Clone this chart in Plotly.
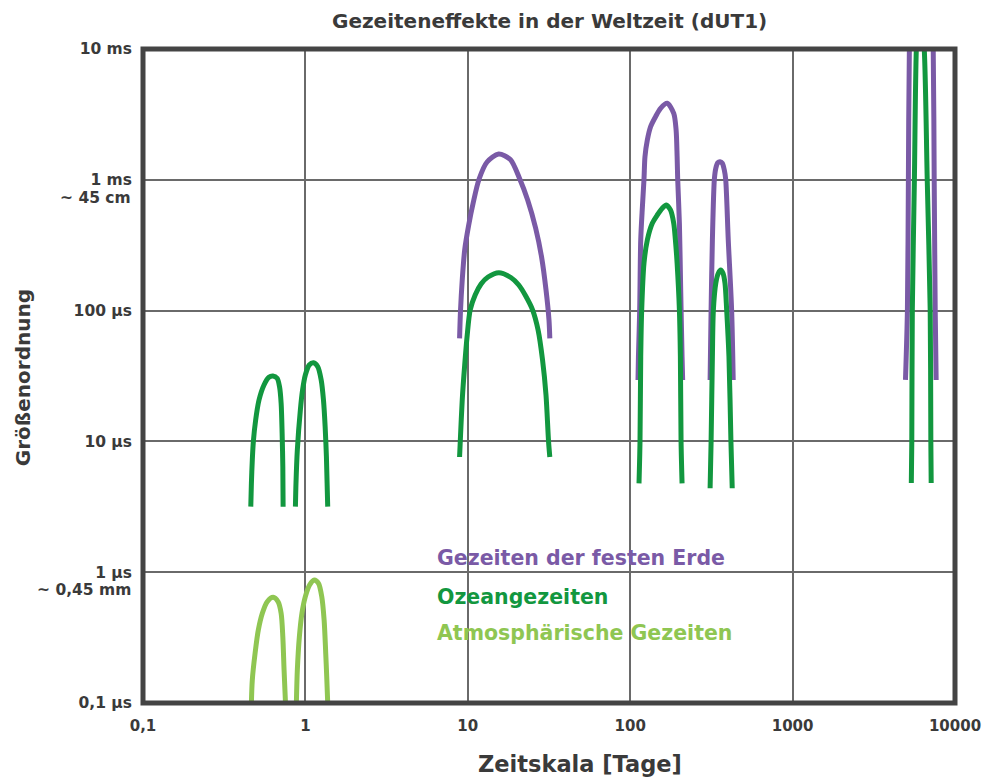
import numpy as np
import plotly.graph_objects as go

# ---------------- data (x: period in days, y: amplitude in microseconds) ----------------
x_tickvals = [0.1, 1, 10, 100, 1000, 10000]
x_ticktext = ["0,1", "1", "10", "100", "1000", "10000"]
y_tickvals = [0.1, 1, 10, 100, 1000, 10000]
y_ticktext = ["0,1 µs", "1 µs", "10 µs", "100 µs", "1 ms", "10 ms"]
y_sublabel_vals = [1, 1000]
y_sublabel_text = ["~ 0,45 mm", "~ 45 cm"]

# --- solid Earth tides (purple) ---
erde_14d_x = [8.90, 9.02, 9.24, 9.57, 10.13, 10.79, 11.74, 13.14, 15.48,
              18.28, 20.89, 23.37, 26.16, 28.46, 30.31, 31.62, 31.99]
erde_14d_y = [61.4, 101, 171, 291, 451, 665, 1014, 1368, 1575,
              1430, 1014, 701, 428, 257, 144, 84.7, 61.4]
erde_182d_x = [111.7, 112.4, 114.4, 116.1, 118.9, 121.6, 123.3, 127.5, 133.6, 143.3,
               153.8, 168.9, 185.4, 191.7, 194.5, 196.1, 200.9, 204.6, 208.6, 210.4]
erde_182d_y = [29.5, 44.4, 101, 347, 623, 1009, 1502, 2015, 2547, 3037,
               3521, 3845, 3224, 2403, 1502, 1009, 465, 144, 44.4, 29.5]
erde_365d_x = [310.5, 314.9, 320.7, 329.8, 336.5, 346.0, 357.4, 369.2, 379.7, 387.2, 401.6, 421.2, 430.8]
erde_365d_y = [29.5, 101, 347, 1009, 1224, 1351, 1375, 1337, 1188, 1009, 347, 101, 29.5]
erde_18j_x = [4955, 5093, 5164, 5236, 5350, 6100, 7200, 7343, 7446, 7553, 7655]
erde_18j_y = [29.5, 100, 1000, 10000, 20000, 40000, 20000, 10000, 1000, 100, 29.5]

# --- ocean tides (green) ---
ozean_12h_x = [0.461, 0.465, 0.471, 0.478, 0.494, 0.518, 0.556, 0.596, 0.631,
               0.670, 0.693, 0.709, 0.719, 0.726, 0.729]
ozean_12h_y = [3.17, 4.78, 7.21, 9.95, 14.57, 20.73, 26.99, 30.92, 31.62,
               30.37, 26.19, 19.56, 11.53, 6.41, 3.17]
ozean_24h_x = [0.868, 0.875, 0.892, 0.931, 0.961, 0.999, 1.056, 1.122,
               1.192, 1.251, 1.292, 1.323, 1.347, 1.372]
ozean_24h_y = [3.17, 4.78, 8.60, 17.39, 24.72, 32.18, 38.38, 39.97,
               37.25, 29.5, 20.73, 12.95, 7.64, 3.17]
ozean_14d_x = [8.90, 8.99, 9.24, 9.57, 9.92, 10.34, 11.10, 12.07, 13.32, 15.54,
               18.41, 20.60, 22.73, 25.08, 27.09, 28.86, 30.31, 31.41, 31.99]
ozean_14d_y = [7.60, 10.07, 20.7, 38.4, 65.1, 101, 131.6, 159.7, 180.7, 195,
               179.1, 156.9, 129.3, 101, 71.1, 41.9, 22.6, 10.07, 7.60]
ozean_182d_x = [113.3, 114.9, 116.1, 117.7, 121.6, 127.5, 136.8, 146.8, 157.5, 166.6,
                177.0, 185.4, 189.8, 194.5, 200.9, 203.7, 205.7, 208.6]
ozean_182d_y = [4.78, 9.95, 44.4, 101, 230, 347, 465, 538, 606, 642,
                588, 465, 347, 230, 101, 44.4, 9.95, 4.78]
ozean_365d_x = [310.5, 314.9, 320.7, 325.2, 336.5, 348.9, 360.9, 372.8, 383.4, 392.7, 405.6, 417.2, 424.9]
ozean_365d_y = [4.38, 9.95, 44.4, 101, 162, 193, 204, 193, 162, 101, 44.4, 9.95, 4.38]
ozean_18j_x = [5383, 5420, 5460, 5623, 5780, 6050, 6467, 6745, 7035, 7100, 7135]
ozean_18j_y = [4.8, 10, 100, 1000, 10000, 30000, 10000, 1000, 100, 10, 4.8]

# --- atmospheric tides (light green) ---
atmo_12h_x = [0.465, 0.471, 0.490, 0.513, 0.543, 0.582, 0.633, 0.679, 0.709, 0.726, 0.739, 0.754]
atmo_12h_y = [0.1, 0.150, 0.240, 0.361, 0.485, 0.595, 0.643, 0.595, 0.485, 0.321, 0.179, 0.1]
atmo_24h_x = [0.880, 0.892, 0.918, 0.952, 0.999, 1.061, 1.133, 1.204, 1.261, 1.304, 1.334, 1.353, 1.372]
atmo_24h_y = [0.1, 0.179, 0.321, 0.485, 0.650, 0.798, 0.872, 0.822, 0.650, 0.431, 0.240, 0.159, 0.1]

legend_labels = ["Gezeiten der festen Erde", "Ozeangezeiten", "Atmosphärische Gezeiten"]

# ---------------- styling ----------------
C_ERDE = "#7a5aa6"
C_OZEAN = "#12973f"
C_ATMO = "#8fc652"
C_TEXT = "#3a3a3a"
C_FRAME = "#444444"
C_GRID = "#6a6a6a"
FONT = "DejaVu Sans"

series = [
    (erde_14d_x, erde_14d_y, C_ERDE), (erde_182d_x, erde_182d_y, C_ERDE),
    (erde_365d_x, erde_365d_y, C_ERDE), (erde_18j_x, erde_18j_y, C_ERDE),
    (ozean_12h_x, ozean_12h_y, C_OZEAN), (ozean_24h_x, ozean_24h_y, C_OZEAN),
    (ozean_14d_x, ozean_14d_y, C_OZEAN), (ozean_182d_x, ozean_182d_y, C_OZEAN),
    (ozean_365d_x, ozean_365d_y, C_OZEAN), (ozean_18j_x, ozean_18j_y, C_OZEAN),
    (atmo_12h_x, atmo_12h_y, C_ATMO), (atmo_24h_x, atmo_24h_y, C_ATMO),
]

fig = go.Figure()
for xs, ys, col in series:
    fig.add_trace(go.Scatter(
        x=xs, y=ys, mode="lines",
        line=dict(color=col, width=5, shape="spline", smoothing=0.8),
        showlegend=False, hoverinfo="skip"))

fig.update_layout(
    width=993, height=778,
    margin=dict(l=143, r=30, t=49, b=75),
    paper_bgcolor="white", plot_bgcolor="white",
    font=dict(family=FONT, color=C_TEXT),
    showlegend=False,
)
fig.update_xaxes(
    type="log", range=[-1, 4],
    tickvals=x_tickvals, ticktext=x_ticktext,
    showgrid=True, gridcolor=C_GRID, gridwidth=2,
    zeroline=False, showline=False, ticks="",
    ticklabelstandoff=12,
    tickfont=dict(family=FONT, size=15, color=C_TEXT, weight="bold"),
)
fig.update_yaxes(
    type="log", range=[-1, 4],
    tickvals=y_tickvals, ticktext=y_ticktext,
    showgrid=True, gridcolor=C_GRID, gridwidth=2,
    zeroline=False, showline=False, ticks="",
    ticklabelstandoff=10,
    tickfont=dict(family=FONT, size=15.5, color=C_TEXT, weight="bold"),
)

# legend box (white, hides gridlines) and frame
fig.add_shape(type="rect", xref="paper", yref="paper",
              x0=0.3415, x1=0.7488, y0=0.0734, y1=0.2569,
              fillcolor="white", line=dict(width=0), layer="between")
fig.add_shape(type="rect", xref="paper", yref="paper",
              x0=0, x1=1, y0=0, y1=1,
              line=dict(color=C_FRAME, width=5), layer="above")

annotations = []
for yv, txt in zip(y_sublabel_vals, y_sublabel_text):
    annotations.append(dict(
        xref="paper", yref="y", x=-0.0122, y=np.log10(yv), yshift=-18,
        xanchor="right", yanchor="middle", showarrow=False, text=txt,
        font=dict(family=FONT, size=15.5, color=C_TEXT, weight="bold")))

legend_y = [0.2217, 0.1621, 0.107]
legend_c = [C_ERDE, C_OZEAN, C_ATMO]
for txt, yy, cc in zip(legend_labels, legend_y, legend_c):
    annotations.append(dict(
        xref="paper", yref="paper", x=0.3598, y=yy,
        xanchor="left", yanchor="middle", showarrow=False, text=txt,
        font=dict(family=FONT, size=20.5, color=cc, weight="bold")))

annotations.append(dict(
    xref="paper", yref="paper", x=0.501, y=1.0428, xanchor="center", yanchor="middle",
    showarrow=False, text="Gezeiteneffekte in der Weltzeit (dUT1)",
    font=dict(family=FONT, size=20, color=C_TEXT, weight="bold")))
annotations.append(dict(
    xref="paper", yref="paper", x=0.538, y=-0.0933, xanchor="center", yanchor="middle",
    showarrow=False, text="Zeitskala [Tage]",
    font=dict(family=FONT, size=22.5, color=C_TEXT, weight="bold")))
annotations.append(dict(
    xref="paper", yref="paper", x=-0.1476, y=0.4969, xanchor="center", yanchor="middle",
    showarrow=False, text="Größenordnung", textangle=-90,
    font=dict(family=FONT, size=20, color=C_TEXT, weight="bold")))

fig.update_layout(annotations=annotations)
fig.write_html(
    "out.html",
    config={"displayModeBar": False},
    post_script="document.body.style.margin='0';document.body.style.overflow='hidden';",
)
